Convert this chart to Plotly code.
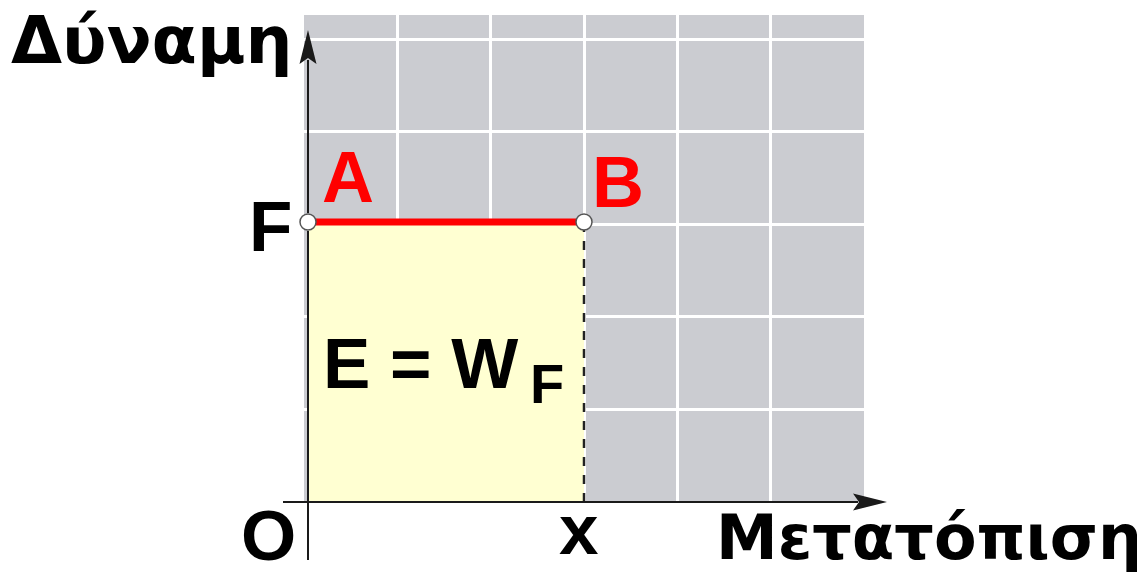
import plotly.graph_objects as go

# ---------------- data ----------------
force_F = 3.0                 # force level F
disp_x = 3.0                  # displacement x
point_labels = ["A", "B"]
point_x = [0.0, disp_x]
point_y = [force_F, force_F]
y_title = "Δύναμη"
x_title = "Μετατόπιση"
origin_label = "O"
x_label = "x"
f_label = "F"
area_label = "E = W"
area_sub = "F"

# ---------------- layout geometry (screen pixels) ----------------
OFF = 8                       # page body margin
W, H = 1145 - OFF, 580 - OFF  # figure size
L, R, T, B = 304, 864, 15, 502  # plot area on screen
X_RANGE = [-4 / 92.0, 556 / 92.0]
Y_RANGE = [0.0, 487 / 93.333]
GX = 93.333 / 92.0
GY = 92.6 / 93.333

def xpx(x):
    return L + (x - X_RANGE[0]) / (X_RANGE[1] - X_RANGE[0]) * (R - L)

def ypx(y):
    return B - (y - Y_RANGE[0]) / (Y_RANGE[1] - Y_RANGE[0]) * (B - T)

def pxp(px):
    return (px - L) / (R - L)

def pyp(py):
    return (B - py) / (B - T)

AXIS_COLOR = "#1a1a1a"
LATIN = "Liberation Sans"
GREEK = "DejaVu Sans"

fig = go.Figure()

# yellow work area
fig.add_trace(go.Scatter(
    x=[point_x[0], point_x[1], point_x[1], point_x[0], point_x[0]],
    y=[0, 0, point_y[1], point_y[0], 0],
    mode="lines", fill="toself", fillcolor="#FFFFD2",
    line=dict(width=0), hoverinfo="skip", showlegend=False))

# dashed vertical at x
fig.add_trace(go.Scatter(
    x=[point_x[1], point_x[1]], y=[0, point_y[1]], mode="lines",
    line=dict(color="#222222", width=2.5, dash="dash"),
    hoverinfo="skip", showlegend=False))

# red line A-B
fig.add_trace(go.Scatter(
    x=point_x, y=point_y, mode="lines",
    line=dict(color="#FF0000", width=7), showlegend=False))

# end points
fig.add_trace(go.Scatter(
    x=point_x, y=point_y, mode="markers",
    marker=dict(size=16, color="white", line=dict(color="#555555", width=1.5)),
    cliponaxis=False, showlegend=False))

# axis lines (decoration)
ox, oy = xpx(0), ypx(0)
fy = ypx(force_F)
shapes = []
for (a, b) in [(oy + 58, fy + 9), (fy - 9, 60)]:
    shapes.append(dict(type="line", xref="paper", yref="paper",
                       x0=pxp(ox), x1=pxp(ox), y0=pyp(a), y1=pyp(b),
                       line=dict(color=AXIS_COLOR, width=2)))
shapes.append(dict(type="line", xref="paper", yref="paper",
                   x0=pxp(ox - 25), x1=pxp(858), y0=pyp(oy), y1=pyp(oy),
                   line=dict(color=AXIS_COLOR, width=2)))

def path(pts):
    return "M " + " L ".join(f"{pxp(px):.5f},{pyp(py):.5f}" for px, py in pts) + " Z"

shapes.append(dict(type="path", xref="paper", yref="paper",
                   path=path([(ox, 30), (ox - 8.5, 64), (ox, 58), (ox + 8.5, 64)]),
                   fillcolor=AXIS_COLOR, line=dict(width=0)))
shapes.append(dict(type="path", xref="paper", yref="paper",
                   path=path([(887, oy), (853, oy - 8.5), (859, oy), (853, oy + 8.5)]),
                   fillcolor=AXIS_COLOR, line=dict(width=0)))

def bold(size, color="black", family=LATIN):
    return dict(family=family, size=size, color=color, weight="bold")

ann = []
# axis titles
ann.append(dict(xref="paper", yref="paper", x=pxp(9), y=pyp(40), xanchor="left",
                yanchor="middle", text=y_title, showarrow=False, font=bold(66, family=GREEK)))
ann.append(dict(xref="paper", yref="paper", x=pxp(1144), y=pyp(537), xanchor="right",
                yanchor="middle", text=x_title, showarrow=False, font=bold(62, family=GREEK)))
# O, x, F
ann.append(dict(x=0, y=0, text=origin_label, showarrow=False, xanchor="center", yanchor="middle",
                xshift=-40, yshift=-33, font=bold(71)))
ann.append(dict(x=disp_x, y=0, text=x_label, showarrow=False, xanchor="center", yanchor="middle",
                xshift=-5, yshift=-27, font=bold(71)))
ann.append(dict(x=0, y=force_F, text=f_label, showarrow=False, xanchor="center", yanchor="middle",
                xshift=-38, yshift=-4, font=bold(71)))
# A, B
ann.append(dict(x=point_x[0], y=point_y[0], text=point_labels[0], showarrow=False,
                xanchor="center", yanchor="middle", xshift=40, yshift=45,
                font=bold(72, "#FF0000")))
ann.append(dict(x=point_x[1], y=point_y[1], text=point_labels[1], showarrow=False,
                xanchor="center", yanchor="middle", xshift=34, yshift=40,
                font=bold(72, "#FF0000")))
# area label
ann.append(dict(x=0, y=force_F / 2, text=area_label, showarrow=False, xanchor="left",
                yanchor="middle", xshift=13, yshift=-1, font=bold(71)))
ann.append(dict(x=0, y=force_F / 2, text=area_sub, showarrow=False, xanchor="left",
                yanchor="middle", xshift=220, yshift=-21, font=bold(56)))

fig.update_layout(
    width=W, height=H,
    margin=dict(l=L - OFF, r=W - (R - OFF), t=T - OFF, b=H - (B - OFF), pad=0),
    paper_bgcolor="white", plot_bgcolor="#CBCCD1",
    xaxis=dict(range=X_RANGE, showgrid=True, gridcolor="white", gridwidth=3,
               tick0=X_RANGE[0], dtick=GX, showticklabels=False, ticks="",
               zeroline=False, showline=False, fixedrange=True),
    yaxis=dict(range=Y_RANGE, showgrid=True, gridcolor="white", gridwidth=3,
               tick0=0, dtick=GY, showticklabels=False, ticks="",
               zeroline=False, showline=False, fixedrange=True),
    shapes=shapes, annotations=ann, showlegend=False,
)

fig.write_html("out.html")
